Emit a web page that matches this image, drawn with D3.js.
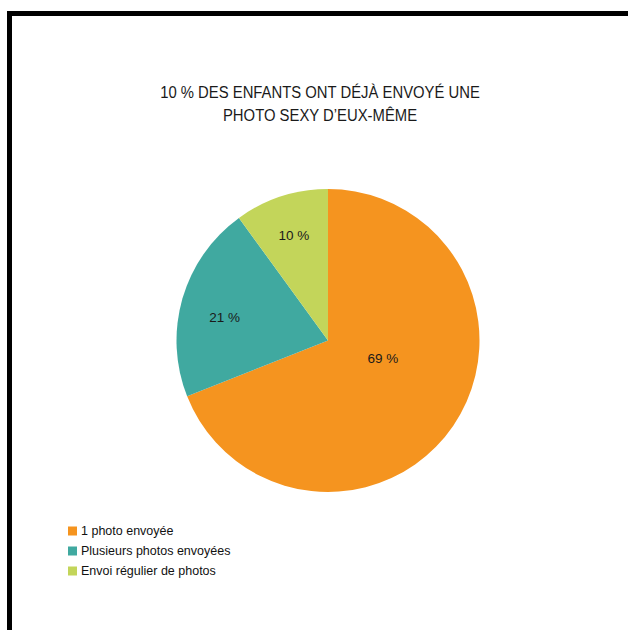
<!DOCTYPE html>
<html>
<head>
<meta charset="utf-8">
<script src="https://cdn.jsdelivr.net/npm/d3@7"></script>
<style>
  html, body { margin: 0; padding: 0; background: #fff; }
  svg { display: block; }
  svg text { font-family: "Liberation Sans", Arial, Helvetica, sans-serif; }
</style>
</head>
<body>
<svg id="chart" width="628" height="630"></svg>
<script>
// data
const categories = ["1 photo envoyée", "Plusieurs photos envoyées", "Envoi régulier de photos"];
const values = [69, 21, 10];
const titleLines = ["10 % DES ENFANTS ONT DÉJÀ ENVOYÉ UNE", "PHOTO SEXY D\u2019EUX-MÊME"];

// style
const colors = ["#F5941F", "#40A9A0", "#C3D55A"];
// label placement tweaks (radius fraction, angle shift in rad), like Excel "best fit"
const labelPlace = [{ r: 0.38, da: -0.29 }, { r: 0.70, da: -0.06 }, { r: 0.73, da: 0 }];

const W = 628, H = 630;
const cx = 328, cy = 340.5, R = 151.5;

const svg = d3.select("#chart");

// frame (top + left only, rest is cropped)
svg.append("path")
    .attr("d", `M9.5 ${H} L9.5 13.5 L${W} 13.5`)
    .attr("fill", "none")
    .attr("stroke", "#000")
    .attr("stroke-width", 5);

// title (slightly condensed font)
svg.append("g")
    .attr("transform", "translate(320,0) scale(0.9,1)")
    .selectAll("text")
    .data(titleLines)
    .join("text")
    .attr("x", 0)
    .attr("y", (d, i) => 98.5 + i * 23)
    .attr("text-anchor", "middle")
    .attr("font-size", 16.5)
    .attr("fill", "#1a1a1a")
    .text(d => d);

// pie
const pie = d3.pie().sort(null).value(d => d);
const arcs = pie(values);
const arc = d3.arc().innerRadius(0).outerRadius(R);

const g = svg.append("g").attr("transform", `translate(${cx},${cy})`);

g.selectAll("path")
    .data(arcs)
    .join("path")
    .attr("d", arc)
    .attr("fill", (d, i) => colors[i]);

g.selectAll("text")
    .data(arcs)
    .join("text")
    .attr("transform", (d, i) => {
        const p = labelPlace[i];
        const a = (d.startAngle + d.endAngle) / 2 + p.da;
        const r = R * p.r;
        return `translate(${r * Math.sin(a)},${-r * Math.cos(a)})`;
    })
    .attr("text-anchor", "middle")
    .attr("dy", "0.35em")
    .attr("font-size", 13.5)
    .attr("fill", "#1a1a1a")
    .text(d => d.data + " %");

// legend
const legend = svg.append("g").attr("transform", "translate(68,531)");
const row = legend.selectAll("g")
    .data(categories)
    .join("g")
    .attr("transform", (d, i) => `translate(0,${i * 20})`);

row.append("rect")
    .attr("x", 0)
    .attr("y", -4.5)
    .attr("width", 9)
    .attr("height", 9)
    .attr("fill", (d, i) => colors[i]);

row.append("text")
    .attr("x", 13)
    .attr("dy", "0.35em")
    .attr("font-size", 12.5)
    .attr("fill", "#111")
    .text(d => d);
</script>
</body>
</html>
